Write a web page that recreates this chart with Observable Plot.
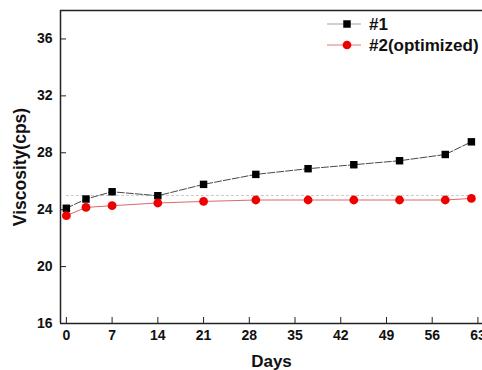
<!DOCTYPE html>
<html>
<head>
<meta charset="utf-8">
<script src="https://cdn.jsdelivr.net/npm/d3@7"></script>
<script src="https://cdn.jsdelivr.net/npm/@observablehq/plot@0.6"></script>
<style>
  html, body { margin: 0; padding: 0; background: #fff; }
  svg { display: block; }
</style>
</head>
<body>
<div id="chart"></div>
<script>
const days1 = [0, 3, 7, 14, 21, 29, 37, 44, 51, 58, 62];
const visc1 = [24.1, 24.75, 25.26, 24.98, 25.78, 26.48, 26.88, 27.16, 27.44, 27.88, 28.77];
const days2 = [0, 3, 7, 14, 21, 29, 37, 44, 51, 58, 62];
const visc2 = [23.58, 24.16, 24.28, 24.47, 24.58, 24.68, 24.68, 24.68, 24.68, 24.68, 24.79];
const seriesNames = ["#1", "#2(optimized)"];
const refValue = [25];
const xTicks = [0, 7, 14, 21, 28, 35, 42, 49, 56, 63];
const yTicks = [16, 20, 24, 28, 32, 36];
const xDomain = [-0.9, 63.7];
const yDomain = [16, 38];
const xTitle = "Days";
const yTitle = "Viscosity(cps)";

const s1 = days1.map((d, i) => ({day: d, v: visc1[i]}));
const s2 = days2.map((d, i) => ({day: d, v: visc2[i]}));
const font = "'Liberation Sans', Arial, sans-serif";

const chart = Plot.plot({
  width: 482,
  height: 370,
  marginLeft: 60,
  marginTop: 10,
  marginBottom: 47,
  marginRight: 0,
  style: {fontFamily: font, background: "#fff"},
  x: {domain: xDomain, ticks: xTicks},
  y: {domain: yDomain, ticks: yTicks},
  marks: [
    Plot.axisX({ticks: xTicks, tickSize: 0, tickPadding: 7, fontSize: 14, fontWeight: "bold", fill: "#111", label: null}),
    Plot.axisX({ticks: xTicks, tickSize: -6, tickFormat: () => "", label: null, stroke: "#222"}),
    Plot.axisY({ticks: yTicks, tickSize: 0, tickPadding: 8, fontSize: 14, fontWeight: "bold", fill: "#111", label: null}),
    Plot.axisY({ticks: yTicks, tickSize: -6, tickFormat: () => "", label: null, stroke: "#222"}),
    Plot.ruleX([xDomain[0]], {stroke: "#222", strokeWidth: 1.5}),
    Plot.ruleY([yDomain[0]], {stroke: "#222", strokeWidth: 1.5}),
    Plot.ruleY([yDomain[1]], {stroke: "#222", strokeWidth: 1.5}),
    Plot.ruleY(refValue, {x1: days1[0], x2: days1[days1.length - 1], stroke: "#bbb", strokeWidth: 0.8, strokeDasharray: "3,2"}),
    Plot.line(s1, {x: "day", y: "v", stroke: "#333", strokeWidth: 0.9, strokeDasharray: "7,2"}),
    Plot.line(s2, {x: "day", y: "v", stroke: "#d55", strokeWidth: 0.9}),
    Plot.dot(s1, {x: "day", y: "v", symbol: "square", r: 4.2, fill: "#000", stroke: "none"}),
    Plot.dot(s2, {x: "day", y: "v", symbol: "circle", r: 4.4, fill: "#e00", stroke: "none"}),
    Plot.text([yTitle], {frameAnchor: "left", dx: -40, rotate: -90, fontSize: 17.5, fontWeight: "bold", fill: "#111", textAnchor: "middle", lineAnchor: "middle"}),
    Plot.text([xTitle], {frameAnchor: "bottom", dy: 38, fontSize: 17, fontWeight: "bold", fill: "#111", textAnchor: "middle", lineAnchor: "middle"})
  ]
});

// Legend inside plot (top-right)
const svg = d3.select(chart);
const legendItems = [
  {name: seriesNames[0], line: "#999", symbol: d3.symbolSquare, fill: "#000", size: 56},
  {name: seriesNames[1], line: "#d66", symbol: d3.symbolCircle, fill: "#e00", size: 60}
];
const lg = svg.append("g").attr("font-family", font).attr("text-anchor", "start");
legendItems.forEach((it, i) => {
  const y = 24 + i * 21;
  lg.append("line").attr("x1", 327).attr("x2", 361).attr("y1", y).attr("y2", y)
    .attr("stroke", it.line).attr("stroke-width", 0.9);
  lg.append("path").attr("d", d3.symbol(it.symbol, it.size)()).attr("transform", `translate(347,${y})`).attr("fill", it.fill);
  lg.append("text").attr("x", 369).attr("y", y).attr("dy", "0.36em").attr("text-anchor", "start")
    .attr("font-size", 17).attr("font-weight", "bold").attr("fill", "#111").text(it.name);
});

document.getElementById("chart").appendChild(chart);
</script>
</body>
</html>
